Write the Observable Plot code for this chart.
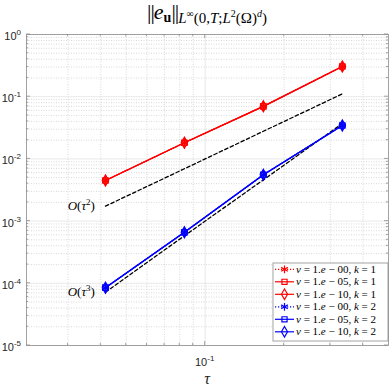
<!DOCTYPE html>
<html><head><meta charset="utf-8">
<script src="https://cdn.jsdelivr.net/npm/d3@7"></script>
<script src="https://cdn.jsdelivr.net/npm/@observablehq/plot@0.6"></script>
<style>html,body{margin:0;padding:0;background:#fff}
.serif{font-family:"Liberation Serif","DejaVu Serif",serif}
.sans{font-family:"Liberation Sans","DejaVu Sans",sans-serif}
</style>
</head><body><div id="chart"></div>
<script>
// ---- data ----
const tau = [1/24, 1/12, 1/6, 1/3];
const errK1 = [4.5e-3, 1.82e-2, 7.0e-2, 3.06e-1];
const errK2 = [8.5e-5, 6.6e-4, 5.55e-3, 3.45e-2];
const nuLabels = ["00", "05", "10"];
const kValues = [1, 2];
const refTau2 = [1.74e-3, 6.94e-3, 2.78e-2, 1.11e-1];
const refTau3 = [7.2e-5, 5.8e-4, 4.6e-3, 3.7e-2];
const refSup = ["2", "3"];
const yMajor = [1e-5, 1e-4, 1e-3, 1e-2, 1e-1, 1];
const yTickExp = ["-5", "-4", "-3", "-2", "-1", "0"];
const xMajor = [0.1];
const xTickExp = ["-1"];
const xMinor = [0.03, 0.04, 0.05, 0.06, 0.07, 0.08, 0.09, 0.2, 0.3, 0.4];
const yMinor = [];
yMajor.slice(0, -1).forEach(d => [2,3,4,5,6,7,8,9].forEach(m => yMinor.push(d * m)));

const colors = {1: "#ff0000", 2: "#0000ff"};
const symbols = [d3.symbolAsterisk, d3.symbolSquare, d3.symbolDiamond];
const symR = [3.6, 2.9, 3.2];

const rows = [];
kValues.forEach(k => nuLabels.forEach((nu, ni) => tau.forEach((t, i) =>
  rows.push({tau: t, err: (k === 1 ? errK1 : errK2)[i], k, ni}))));
const refRows = [];
[refTau2, refTau3].forEach((arr, o) => tau.forEach((t, i) => refRows.push({tau: t, err: arr[i], order: o})));

const seriesMarks = [];
kValues.forEach(k => nuLabels.forEach((nu, ni) => {
  const data = rows.filter(r => r.k === k && r.ni === ni);
  seriesMarks.push(Plot.line(data, {x: "tau", y: "err", stroke: colors[k], strokeWidth: 1.3,
    strokeDasharray: ni === 0 ? "1.2,1.8" : null}));
}));
kValues.forEach(k => nuLabels.forEach((nu, ni) => {
  const data = rows.filter(r => r.k === k && r.ni === ni);
  seriesMarks.push(Plot.dot(data, {x: "tau", y: "err", stroke: colors[k], fill: "none",
    strokeWidth: 1.5, symbol: symbols[ni], r: symR[ni]}));
}));

const plot = Plot.plot({
  width: 390, height: 390,
  marginLeft: 26, marginRight: 2, marginTop: 34, marginBottom: 45,
  x: {type: "log", domain: [1/48, 0.5], axis: null},
  y: {type: "log", domain: [1e-5, 1], axis: null},
  style: {background: "#fff"},
  marks: [
    Plot.ruleX(xMinor, {stroke: "#c8c8c8", strokeDasharray: "1,1.5", strokeWidth: 0.7}),
    Plot.ruleY(yMinor, {stroke: "#c8c8c8", strokeDasharray: "1,1.5", strokeWidth: 0.7}),
    Plot.ruleX(xMajor, {stroke: "#e2e2e2", strokeWidth: 0.8}),
    Plot.ruleY(yMajor, {stroke: "#e2e2e2", strokeWidth: 0.8}),
    Plot.line(refRows, {x: "tau", y: "err", z: "order", stroke: "black", strokeWidth: 1.3, strokeDasharray: "3.5,2.5"}),
    ...seriesMarks,
    Plot.frame({stroke: "#8c8c8c", strokeWidth: 0.8})
  ]
});
document.getElementById("chart").appendChild(plot);

// ---- ticks, tick labels, title, legend using the plot's scales ----
const sx = plot.scale("x"), sy = plot.scale("y");
const X = v => sx.apply(v), Y = v => sy.apply(v);
const [x0, x1] = sx.range, [y0, y1] = sy.range; // y0 bottom, y1 top
const svg = d3.select(plot);
const g = svg.append("g").attr("stroke", "#8c8c8c").attr("stroke-width", 0.8);
const tick = (pos, len, horiz) => {
  if (horiz) {
    g.append("line").attr("x1", x0).attr("x2", x0 + len).attr("y1", pos).attr("y2", pos);
    g.append("line").attr("x1", x1).attr("x2", x1 - len).attr("y1", pos).attr("y2", pos);
  } else {
    g.append("line").attr("y1", y0).attr("y2", y0 - len).attr("x1", pos).attr("x2", pos);
    g.append("line").attr("y1", y1).attr("y2", y1 + len).attr("x1", pos).attr("x2", pos);
  }
};
yMajor.forEach(v => tick(Y(v), 4, true));
yMinor.forEach(v => tick(Y(v), 2.2, true));
xMajor.forEach(v => tick(X(v), 4, false));
xMinor.forEach(v => tick(X(v), 2.2, false));

const txt = (sel, x, y, anchor, cls, size) => sel.append("text").attr("x", x).attr("y", y)
  .attr("class", cls).style("text-anchor", anchor).style("font-size", size + "px").attr("fill", "#262626");

yMajor.forEach((v, i) => {
  const t = txt(svg, x0 - 5, Y(v) + 6, "end", "sans", 11);
  t.append("tspan").text("10");
  t.append("tspan").style("font-size", "8px").attr("dy", -5).text(yTickExp[i]);
});
xMajor.forEach((v, i) => {
  const t = txt(svg, X(v), y0 + 21, "middle", "sans", 11);
  t.append("tspan").text("10");
  t.append("tspan").style("font-size", "8px").attr("dy", -5).text(xTickExp[i]);
});
txt(svg, (x0 + x1) / 2, 384, "middle", "serif", 16).style("font-style", "italic").text("τ");

// reference labels
[refTau2, refTau3].forEach((arr, o) => {
  const t = txt(svg, X(tau[0]) - 10, Y(arr[0]) + 4.5, "end", "serif", 13).attr("fill", "#000");
  t.append("tspan").style("font-style", "italic").text("O");
  t.append("tspan").text("(");
  t.append("tspan").style("font-style", "italic").text("τ");
  t.append("tspan").style("font-size", "9px").attr("dy", -5).text(refSup[o]);
  t.append("tspan").attr("dy", 5).text(")");
});

// title
const ti = txt(svg, 207, 19, "middle", "serif", 22).attr("fill", "#000");
const sub = (s, size, dy, italic, bold) => {
  const ts = ti.append("tspan").style("font-size", size + "px").text(s);
  if (dy) ts.attr("dy", dy);
  if (italic) ts.style("font-style", "italic");
  if (bold) ts.style("font-weight", "bold");
  return ts;
};
sub("||", 22, 0).style("letter-spacing", "-1px");
sub("e", 22, 0, true);
sub("u", 14, 3, false, true);
sub("||", 22, -3).style("letter-spacing", "-1px");
sub("L", 15, 4, true);
sub("∞", 10, -6);
sub("(0,", 15, 6);
sub("T", 15, 0, true);
sub(";", 15, 0);
sub("L", 15, 0, true);
sub("2", 10, -6);
sub("(Ω)", 15, 6);
sub("d", 10, -6, true);
sub(")", 15, 6);

// legend
const lg = svg.append("g");
lg.append("rect").attr("x", 273).attr("y", 263).attr("width", 115).attr("height", 78)
  .attr("fill", "#fff").attr("stroke", "#8c8c8c").attr("stroke-width", 0.8);
let row = 0;
kValues.forEach(k => nuLabels.forEach((nu, ni) => {
  const cy = 269.3 + 12.5 * row;
  lg.append("line").attr("x1", 275).attr("x2", 294).attr("y1", cy).attr("y2", cy)
    .attr("stroke", colors[k]).attr("stroke-width", 1.2).attr("stroke-dasharray", ni === 0 ? "1.2,1.8" : null);
  lg.append("path").attr("d", d3.symbol(symbols[ni], Math.PI * symR[ni] * symR[ni])())
    .attr("transform", `translate(284.5,${cy})`).attr("fill", "none").attr("stroke", colors[k]).attr("stroke-width", 1.2);
  const t = txt(lg, 296, cy + 3.6, "start", "serif", 11).attr("fill", "#000");
  t.append("tspan").style("font-style", "italic").text("ν");
  t.append("tspan").text(" = 1.");
  t.append("tspan").style("font-style", "italic").text("e");
  t.append("tspan").text(" − " + nu + ", ");
  t.append("tspan").style("font-style", "italic").text("k");
  t.append("tspan").text(" = " + k);
  row++;
}));
</script>
</body></html>
